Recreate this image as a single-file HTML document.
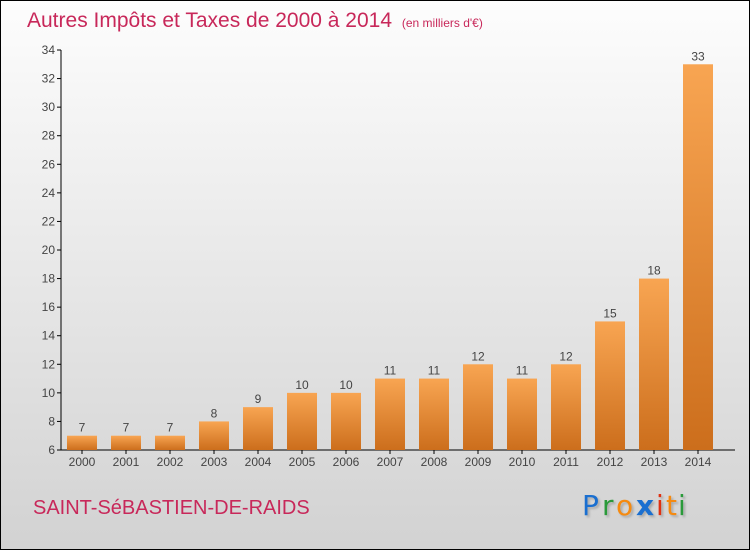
<!DOCTYPE html>
<html><head><meta charset="utf-8"><style>
html,body{margin:0;padding:0}
body{width:750px;height:550px;overflow:hidden;font-family:"Liberation Sans",sans-serif}
#frame{position:absolute;left:0;top:0;width:748px;height:548px;border:1px solid #000;background:linear-gradient(#fdfdfd,#d2d2d2)}
</style></head><body>
<div id="frame"></div>
<svg id="c" width="750" height="550" style="position:absolute;left:0;top:0">
<defs><linearGradient id="bg" x1="0" y1="0" x2="0" y2="1"><stop offset="0" stop-color="#f8a552"/><stop offset="1" stop-color="#cc6e1c"/></linearGradient></defs>
<text x="27" y="27" font-size="21" fill="#c8285a">Autres Impôts et Taxes de 2000 à 2014 <tspan font-size="12" dx="4">(en milliers d'€)</tspan></text>
<g id="axes"></g><g id="bars"></g>
<text x="33" y="514" font-size="20" fill="#c8285a">SAINT-SéBASTIEN-DE-RAIDS</text>
<g font-size="28" font-family="'DejaVu Sans',sans-serif" style="text-shadow:2px 2px 2px #aaa">
<text x="582" y="515" fill="#1a6fd0">P</text><text x="602" y="515" fill="#2a9a3a">r</text><text x="616" y="515" fill="#f58a10">o</text><text x="636" y="515" fill="#1a6fd0" font-weight="bold">x</text><text x="656" y="515" fill="#e03010">i</text><text x="666" y="515" fill="#f58a10">t</text><text x="678" y="515" fill="#2a9a3a">i</text></g>
</svg>
<script>
const years=["2000","2001","2002","2003","2004","2005","2006","2007","2008","2009","2010","2011","2012","2013","2014"];
const values=[7,7,7,8,9,10,10,11,11,12,11,12,15,18,33];
const yTicks=[6,8,10,12,14,16,18,20,22,24,26,28,30,32,34];
const NS="http://www.w3.org/2000/svg";
const y=v=>450-(v-6)*400/28;
const x=i=>82+i*44;
function mk(t,a,p){const e=document.createElementNS(NS,t);for(const k in a)e.setAttribute(k,a[k]);p.appendChild(e);return e;}
const ax=document.getElementById('axes'),bs=document.getElementById('bars');
let l=mk('line',{x1:61,y1:50,x2:61,y2:450,stroke:'#000'},ax);


l=mk('line',{x1:61,y1:450,x2:735,y2:450,stroke:'#000'},ax);


yTicks.forEach(v=>{
 mk('line',{x1:57,y1:y(v),x2:61,y2:y(v),stroke:'#000'},ax);
 const t=mk('text',{x:55,y:y(v)+4,'font-size':12,fill:'#444','text-anchor':'end'},ax);t.textContent=v;
 
 
});
years.forEach((yr,i)=>{
 mk('line',{x1:x(i),y1:450,x2:x(i),y2:454,stroke:'#000'},ax);
 const t=mk('text',{x:x(i),y:466,'font-size':12,fill:'#444','text-anchor':'middle'},ax);t.textContent=yr;
 
 
 const r=mk('rect',{x:x(i)-15,y:y(values[i]),width:30,height:450-y(values[i]),fill:'url(#bg)'},bs);
 
 
 const vt=mk('text',{x:x(i),y:y(values[i])-4,'font-size':12,fill:'#444','text-anchor':'middle'},bs);vt.textContent=values[i];
 
 
});
</script>
</body></html>
